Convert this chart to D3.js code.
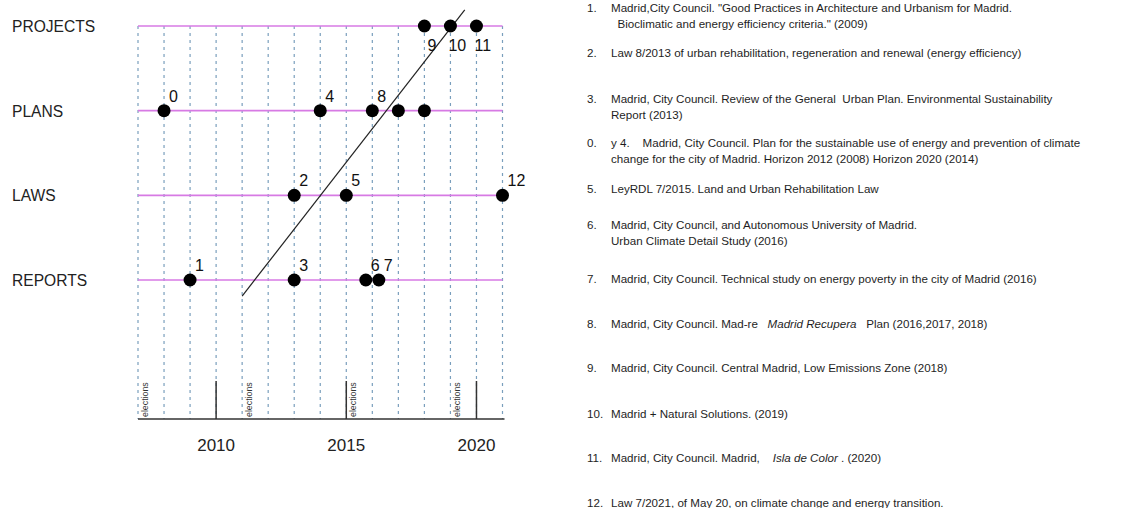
<!DOCTYPE html>
<html>
<head>
<meta charset="utf-8">
<script src="https://cdn.jsdelivr.net/npm/d3@7"></script>
<style>
  html, body { margin: 0; padding: 0; background: #fff; }
  svg { display: block; }
</style>
</head>
<body>
<svg id="chart" width="1137" height="508"></svg>
<script>
// ---------------- DATA ----------------
const categories = ["REPORTS", "LAWS", "PLANS", "PROJECTS"];

const eventIds        = ["0",     "4",     "8",     "",      "",      "9",        "10",       "11",       "2",    "5",    "12",   "1",       "3",       "6",       "7"];
const eventCategories = ["PLANS", "PLANS", "PLANS", "PLANS", "PLANS", "PROJECTS", "PROJECTS", "PROJECTS", "LAWS", "LAWS", "LAWS", "REPORTS", "REPORTS", "REPORTS", "REPORTS"];
const eventYears      = [2008,    2014,    2016,    2017,    2018,    2018,       2019,       2020,       2013,   2015,   2021,   2009,      2013,      2015.75,   2016.25];

const yearDomain   = [2007, 2021];
const gridYears    = [2007, 2008, 2009, 2010, 2011, 2012, 2013, 2014, 2015, 2016, 2017, 2018, 2019, 2020, 2021];
const majorYears   = [2010, 2015, 2020];
const electionYears = [2007, 2011, 2015, 2019];

// trend line endpoints (year, row position)
const trendYears = [2011, 2019.55];
const trendRows  = [-0.19, 3.19];

const notes = [
  { n: "1.",  lines: [["Madrid,City Council. \"Good Practices in Architecture and Urbanism for Madrid."], ["  Bioclimatic and energy efficiency criteria.\" (2009)"]] },
  { n: "2.",  lines: [["Law 8/2013 of urban rehabilitation, regeneration and renewal (energy efficiency)"]] },
  { n: "3.",  lines: [["Madrid, City Council. Review of the General  Urban Plan. Environmental Sustainability"], ["Report (2013)"]] },
  { n: "0.",  lines: [["y 4.    Madrid, City Council. Plan for the sustainable use of energy and prevention of climate"], ["change for the city of Madrid. Horizon 2012 (2008) Horizon 2020 (2014)"]] },
  { n: "5.",  lines: [["LeyRDL 7/2015. Land and Urban Rehabilitation Law"]] },
  { n: "6.",  lines: [["Madrid, City Council, and Autonomous University of Madrid."], ["Urban Climate Detail Study (2016)"]] },
  { n: "7.",  lines: [["Madrid, City Council. Technical study on energy poverty in the city of Madrid (2016)"]] },
  { n: "8.",  lines: [["Madrid, City Council. Mad-re   ", "*Madrid Recupera", "   Plan (2016,2017, 2018)"]] },
  { n: "9.",  lines: [["Madrid, City Council. Central Madrid, Low Emissions Zone (2018)"]] },
  { n: "10.", lines: [["Madrid + Natural Solutions. (2019)"]] },
  { n: "11.", lines: [["Madrid, City Council. Madrid,    ", "*Isla de Color", " . (2020)"]] },
  { n: "12.", lines: [["Law 7/2021, of May 20, on climate change and energy transition."]] }
];
const noteY = [12, 57, 103, 147, 193, 229, 283, 328, 372, 418, 462, 507];

// ---------------- CHART ----------------
const svg = d3.select("#chart");
const x = d3.scaleLinear().domain(yearDomain).range([138, 502.5]);
const y = d3.scaleLinear().domain([0, 3]).range([280, 26]);
const axisY = 419;
const magenta = "#d77ae4";
const gridColor = "#7a9fbd";
const ink = "#222";

// vertical dashed grid
svg.append("g").selectAll("line").data(gridYears).join("line")
  .attr("x1", d => x(d)).attr("x2", d => x(d))
  .attr("y1", y(3)).attr("y2", axisY)
  .attr("stroke", gridColor).attr("stroke-width", 1.2)
  .attr("stroke-dasharray", "3,4");

// category lines
svg.append("g").selectAll("line").data(categories).join("line")
  .attr("x1", x(yearDomain[0])).attr("x2", x(yearDomain[1]))
  .attr("y1", (d, i) => y(i)).attr("y2", (d, i) => y(i))
  .attr("stroke", magenta).attr("stroke-width", 1.6);

// category labels
svg.append("g").selectAll("text").data(categories).join("text")
  .attr("x", 12).attr("y", (d, i) => y(i) + 6)
  .attr("font-family", "Liberation Sans, Arial, sans-serif")
  .attr("font-size", 15.6).attr("fill", ink)
  .text(d => d);

// trend line
svg.append("line")
  .attr("x1", x(trendYears[0])).attr("y1", y(trendRows[0]))
  .attr("x2", x(trendYears[1])).attr("y2", y(trendRows[1]))
  .attr("stroke", "#222").attr("stroke-width", 1.2);

// events
const events = eventIds.map((id, i) => ({ id, cat: eventCategories[i], year: eventYears[i] }));
const catIndex = c => categories.indexOf(c);

svg.append("g").selectAll("circle").data(events).join("circle")
  .attr("cx", d => x(d.year)).attr("cy", d => y(catIndex(d.cat)))
  .attr("r", 6.5).attr("fill", "#000");

svg.append("g").selectAll("text").data(events.filter(d => d.id !== "")).join("text")
  .attr("x", d => x(d.year) + (d.cat === "PROJECTS" ? (d.id.length > 1 ? -2 : 3) : 5))
  .attr("y", d => y(catIndex(d.cat)) + (d.cat === "PROJECTS" ? 25 : -9))
  .attr("font-family", "Liberation Sans, Arial, sans-serif")
  .attr("font-size", 16).attr("fill", "#111")
  .text(d => d.id);

// bottom axis line
svg.append("line")
  .attr("x1", x(yearDomain[0])).attr("x2", x(yearDomain[1]) + 2)
  .attr("y1", axisY).attr("y2", axisY)
  .attr("stroke", "#333").attr("stroke-width", 1.5);

// major ticks
svg.append("g").selectAll("line").data(majorYears).join("line")
  .attr("x1", d => x(d)).attr("x2", d => x(d))
  .attr("y1", axisY - 38).attr("y2", axisY)
  .attr("stroke", "#333").attr("stroke-width", 1.5);

svg.append("g").selectAll("text").data(majorYears).join("text")
  .attr("x", d => x(d)).attr("y", 451)
  .attr("text-anchor", "middle")
  .attr("font-family", "Liberation Sans, Arial, sans-serif")
  .attr("font-size", 17).attr("fill", ink)
  .text(d => d);

// elections labels
svg.append("g").selectAll("text").data(electionYears).join("text")
  .attr("transform", d => `translate(${x(d) + 10},${axisY - 2}) rotate(-90)`)
  .attr("font-family", "Liberation Sans, Arial, sans-serif")
  .attr("font-size", 8.8).attr("fill", "#333")
  .text("elections");

// ---------------- NOTES ----------------
const notesG = svg.append("g")
  .attr("font-family", "Liberation Sans, Arial, sans-serif")
  .attr("font-size", 11.6).attr("fill", "#1e1e1e");

notes.forEach((note, i) => {
  const baseY = noteY[i];
  notesG.append("text").attr("x", 587).attr("y", baseY).text(note.n);
  note.lines.forEach((parts, li) => {
    const t = notesG.append("text").attr("x", 611).attr("y", baseY + li * 16)
      .attr("xml:space", "preserve").style("white-space", "pre");
    parts.forEach(p => {
      const italic = p.startsWith("*");
      t.append("tspan").attr("font-style", italic ? "italic" : "normal")
        .text(italic ? p.slice(1) : p);
    });
  });
});
</script>
</body>
</html>
